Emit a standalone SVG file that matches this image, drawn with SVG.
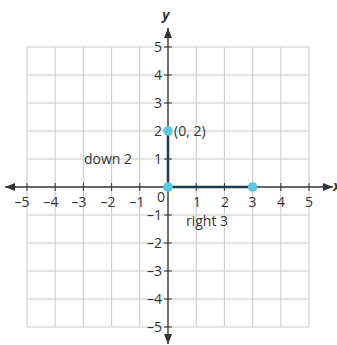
<svg xmlns="http://www.w3.org/2000/svg" width="337" height="345" viewBox="0 0 337 345">
<style>
.grid{stroke:#c8c8c8;stroke-width:1;fill:none}
.axis{stroke:#333;stroke-width:1.4;fill:none}
.tick{stroke:#333;stroke-width:1}
text{font-family:"Open Sans","Liberation Sans",sans-serif;font-size:14px;fill:#333}
.xl{text-anchor:middle}
.yl{text-anchor:end}
.var{font-style:italic;font-weight:bold;font-size:14px}
.seg{stroke:#1f3a4a;stroke-width:2.5;fill:none}
.pt{fill:#5ac8df}
</style>
<defs>
<marker id="ah" viewBox="0 0 10 8" refX="10" refY="4" markerWidth="11" markerHeight="8" markerUnits="userSpaceOnUse" orient="auto">
<path d="M0,0 L10,4 L0,8 Z" fill="#333"/>
</marker>
</defs>
<g id="grid">
<path class="grid" d="M27,47V327M55.2,47V327M83.4,47V327M111.6,47V327M139.8,47V327M196.2,47V327M224.4,47V327M252.6,47V327M280.8,47V327M309,47V327"/>
<path class="grid" d="M27,47H309M27,75H309M27,103H309M27,131H309M27,159H309M27,215H309M27,243H309M27,271H309M27,299H309M27,327H309"/>
</g>
<g id="axes">
<line class="axis" x1="168" y1="187" x2="333" y2="187" marker-end="url(#ah)"/>
<line class="axis" x1="168" y1="187" x2="5" y2="187" marker-end="url(#ah)"/>
<line class="axis" x1="168" y1="187" x2="168" y2="28" marker-end="url(#ah)"/>
<line class="axis" x1="168" y1="187" x2="168" y2="344" marker-end="url(#ah)"/>
<path class="tick" d="M27,183V191M55.2,183V191M83.4,183V191M111.6,183V191M139.8,183V191M196.2,183V191M224.4,183V191M252.6,183V191M280.8,183V191M309,183V191"/>
<path class="tick" d="M164,47H172M164,75H172M164,103H172M164,131H172M164,159H172M164,215H172M164,243H172M164,271H172M164,299H172M164,327H172"/>
<text class="var" x="166" y="20" text-anchor="middle">y</text>
<text class="var" x="333" y="191">x</text>
</g>
<g id="xlabels">
<text class="xl" x="22" y="207">–5</text>
<text class="xl" x="51" y="207">–4</text>
<text class="xl" x="79" y="207">–3</text>
<text class="xl" x="108" y="207">–2</text>
<text class="xl" x="137" y="207">–1</text>
<text class="xl" x="161" y="202">0</text>
<text class="xl" x="197" y="207">1</text>
<text class="xl" x="225" y="207">2</text>
<text class="xl" x="252.6" y="207">3</text>
<text class="xl" x="281" y="207">4</text>
<text class="xl" x="309" y="207">5</text>
</g>
<g id="ylabels">
<text class="yl" x="162" y="52">5</text>
<text class="yl" x="162" y="80">4</text>
<text class="yl" x="162" y="108">3</text>
<text class="yl" x="162" y="136">2</text>
<text class="yl" x="162" y="164">1</text>
<text class="yl" x="162" y="220">–1</text>
<text class="yl" x="162" y="248">–2</text>
<text class="yl" x="162" y="276">–3</text>
<text class="yl" x="162" y="304">–4</text>
<text class="yl" x="162" y="332">–5</text>
</g>
<g id="connectors">
<path class="seg" d="M168,131V187H252.6"/>
</g>
<g id="p02">
<circle class="pt" cx="168" cy="131" r="4.8"/>
<text x="174" y="136">(0, 2)</text>
</g>
<g id="p00">
<circle class="pt" cx="168" cy="187" r="4.8"/>
</g>
<g id="p30">
<circle class="pt" cx="252.6" cy="187" r="4.8"/>
</g>
<g id="labels">
<text x="84" y="164">down 2</text>
<text x="186" y="226">right 3</text>
</g>
</svg>
